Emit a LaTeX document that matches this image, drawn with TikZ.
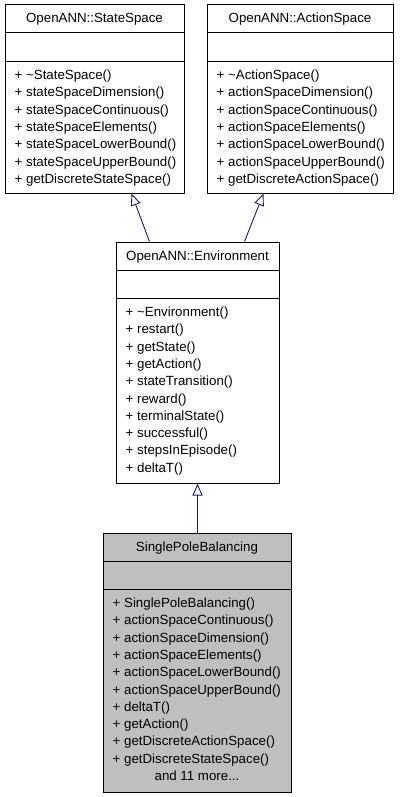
\documentclass[tikz,border=0pt]{standalone}
\usepackage{fontspec}
\setmainfont{Liberation Sans}
\usetikzlibrary{calc,arrows.meta}
\definecolor{edgeblue}{HTML}{191970}
\definecolor{boxgray}{HTML}{BFBFBF}
\tikzset{
  classbox/.style={draw=black, line width=1pt, rectangle, inner sep=0pt},
  txt/.style={inner sep=0pt, font=\fontsize{13.3}{15}\selectfont},
  inh/.style={draw=edgeblue, line width=0.9pt, -{Triangle[open, length=12pt, width=10pt, fill=white]}},
  sep/.style={draw=black, line width=1pt}
}
\begin{document}
\begin{tikzpicture}[x=1pt,y=-1pt]
\useasboundingbox (0,0) rectangle (400,797);
% boxes
\node[classbox, minimum width=179pt, minimum height=188pt] (ss) at (94.5,99) {};
\node[classbox, minimum width=186pt, minimum height=188pt] (as) at (300,99) {};
\node[classbox, minimum width=163pt, minimum height=241pt] (env) at (197.5,362.5) {};
\node[classbox, fill=boxgray, minimum width=188pt, minimum height=259pt] (spb) at (197,662.5) {};
% separators
\foreach \b in {ss,as,env,spb}{
  \draw[sep] ($(\b.north west)+(0,28.5)$) -- ($(\b.north east)+(0,28.5)$);
  \draw[sep] ($(\b.north west)+(0,57)$) -- ($(\b.north east)+(0,57)$);
}
% titles
\node[txt, anchor=base] (sst) at ($(ss.north)+(0,18.5)$) {OpenANN::StateSpace};
\node[txt, anchor=base] (ast) at ($(as.north)+(0,18.5)$) {OpenANN::ActionSpace};
\node[txt, anchor=base] (envt) at ($(env.north)+(0,18.5)$) {OpenANN::Environment};
\node[txt, anchor=base] (spbt) at ($(spb.north)+(0,18.5)$) {SinglePoleBalancing};
% members
\foreach \t [count=\i] in {\textasciitilde StateSpace(), stateSpaceDimension(), stateSpaceContinuous(), stateSpaceElements(), stateSpaceLowerBound(), stateSpaceUpperBound(), getDiscreteStateSpace()}
  \node[txt, anchor=base west] (ssm\i) at ($(ss.north west)+(10,75+17.3*\i-17.3)$) {+ \t};
\foreach \t [count=\i] in {\textasciitilde ActionSpace(), actionSpaceDimension(), actionSpaceContinuous(), actionSpaceElements(), actionSpaceLowerBound(), actionSpaceUpperBound(), getDiscreteActionSpace()}
  \node[txt, anchor=base west] (asm\i) at ($(as.north west)+(10,75+17.3*\i-17.3)$) {+ \t};
\foreach \t [count=\i] in {\textasciitilde Environment(), restart(), getState(), getAction(), stateTransition(), reward(), terminalState(), successful(), stepsInEpisode(), deltaT()}
  \node[txt, anchor=base west] (envm\i) at ($(env.north west)+(10,75+17.3*\i-17.3)$) {+ \t};
\foreach \t [count=\i] in {SinglePoleBalancing(), actionSpaceContinuous(), actionSpaceDimension(), actionSpaceElements(), actionSpaceLowerBound(), actionSpaceUpperBound(), deltaT(), getAction(), getDiscreteActionSpace(), getDiscreteStateSpace()}
  \node[txt, anchor=base west] (spbm\i) at ($(spb.north west)+(10,75+17.3*\i-17.3)$) {+ \t};
\node[txt, anchor=base] (spbmore) at ($(spb.north)+(0,248)$) {and 11 more...};
% inheritance
\draw[inh] ($(env.north west)+(34,0)$) -- ($(ss.south west)+(127,0)$);
\draw[inh] ($(env.north west)+(129,0)$) -- ($(as.south west)+(57,0)$);
\draw[inh] (spb.north -| env.south) -- (env.south);
\end{tikzpicture}
\end{document}
